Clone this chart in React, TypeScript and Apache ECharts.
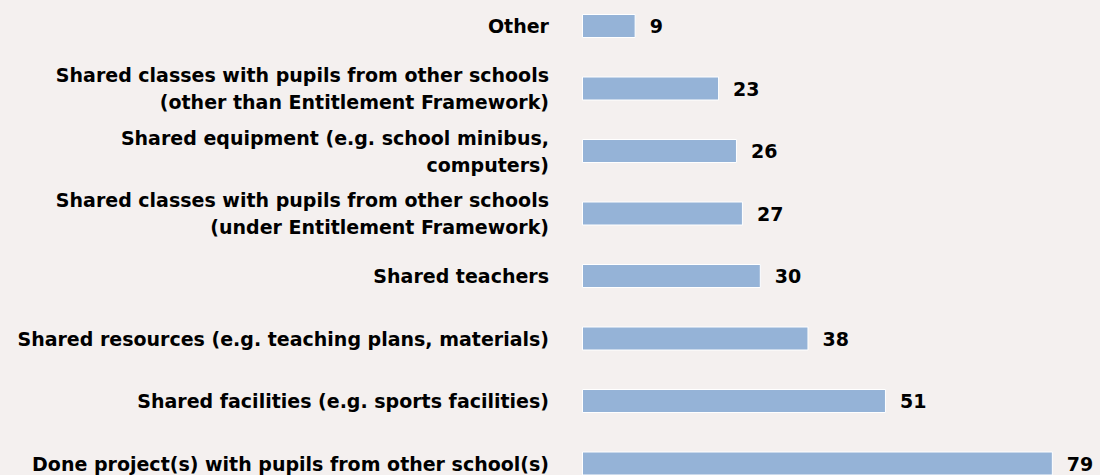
import React, { useEffect, useRef } from "react";
import * as echarts from "echarts";

const categories: string[] = [
  "Other",
  "Shared classes with pupils from other schools\n(other than Entitlement Framework)",
  "Shared equipment (e.g. school minibus,\ncomputers)",
  "Shared classes with pupils from other schools\n(under Entitlement Framework)",
  "Shared teachers",
  "Shared resources (e.g. teaching plans, materials)",
  "Shared facilities (e.g. sports facilities)",
  "Done project(s) with pupils from other school(s)",
];
const values: number[] = [9, 23, 26, 27, 30, 38, 51, 79];

const FONT = "'DejaVu Sans', sans-serif";

export default function App() {
  const ref = useRef<HTMLDivElement>(null);
  useEffect(() => {
    if (!ref.current) return;
    const chart = echarts.init(ref.current, undefined, { renderer: "svg" });
    chart.setOption({
      animation: false,
      backgroundColor: "#f4f0ef",
      grid: {
        left: 582,
        top: -5.25,
        width: 476.8,
        height: 500,
        containLabel: false,
        outerBoundsMode: "none",
      },
      xAxis: {
        type: "value",
        min: 0,
        max: 80,
        show: false,
      },
      yAxis: {
        type: "category",
        inverse: true,
        data: categories,
        axisLine: { show: false },
        axisTick: { show: false },
        splitLine: { show: false },
        axisLabel: {
          margin: 33,
          color: "#000",
          fontFamily: FONT,
          fontWeight: "bold",
          fontSize: 19,
          lineHeight: 27,
          align: "right",
        },
      },
      series: [
        {
          type: "bar",
          data: values,
          barWidth: 24,
          itemStyle: { color: "#95b3d7", borderColor: "#ffffff", borderWidth: 1 },
          label: {
            show: true,
            position: "right",
            distance: 14,
            color: "#000",
            fontFamily: FONT,
            fontWeight: "bold",
            fontSize: 19,
          },
        },
      ],
    });
    return () => chart.dispose();
  }, []);
  return (
    <div
      ref={ref}
      style={{ position: "absolute", left: 0, top: 0, width: 1100, height: 475 }}
    />
  );
}
